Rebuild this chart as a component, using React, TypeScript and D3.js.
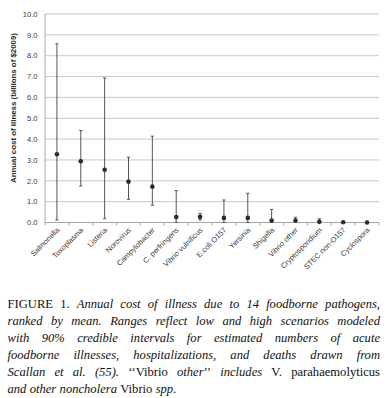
import * as d3 from 'd3';
import { useEffect, useRef } from 'react';

const width = 390;
const height = 398;
const marginTop = 14;
const marginLeft = 45;
const marginRight = 11;
const axisY = 222.5;

const pathogens = [
  'Salmonella',
  'Toxoplasma',
  'Listeria',
  'Norovirus',
  'Campylobacter',
  'C. perfringens',
  'Vibrio vulnificus',
  'E.coli O157',
  'Yersinia',
  'Shigella',
  'Vibrio other',
  'Cryptosporidium',
  'STEC non-O157',
  'Cyclospora',
];
const meanCost = [3.27, 2.94, 2.53, 1.96, 1.72, 0.26, 0.27, 0.22, 0.22, 0.09, 0.09, 0.03, 0.01, 0.0];
const lowCost = [0.12, 1.75, 0.18, 1.11, 0.83, 0.0, 0.12, 0.0, 0.0, 0.0, 0.02, 0.0, 0.0, 0.0];
const highCost = [8.57, 4.41, 6.93, 3.13, 4.14, 1.53, 0.44, 1.08, 1.4, 0.63, 0.25, 0.18, 0.03, 0.01];
const yTicks = [0, 1, 2, 3, 4, 5, 6, 7, 8, 9, 10];

// caption: each line is a list of words, each word a list of [text, italic] runs
type Run = [string, boolean];
const caption: Run[][][] = [
  [[['FIGURE', false]], [['1.', false]], ...'Annual cost of illness due to 14 foodborne pathogens,'.split(' ').map((w) => [[w, true] as Run])],
  'ranked by mean. Ranges reflect low and high scenarios modeled'.split(' ').map((w) => [[w, true] as Run]),
  'with 90% credible intervals for estimated numbers of acute'.split(' ').map((w) => [[w, true] as Run]),
  'foodborne illnesses, hospitalizations, and deaths drawn from'.split(' ').map((w) => [[w, true] as Run]),
  [
    [['Scallan', true]],
    [['et', true]],
    [['al.', true]],
    [['(55).', true]],
    [['\u2018\u2018Vibrio', false]],
    [['other', true], ['\u2019\u2019', false]],
    [['includes', true]],
    [['V.', false]],
    [['parahaemolyticus', false]],
  ],
  [[['and', true]], [['other', true]], [['noncholera', true]], [['Vibrio', false]], [['spp.', true]]],
];

export default function App() {
  const ref = useRef<HTMLDivElement>(null);

  useEffect(() => {
    if (!ref.current) return;
    document.body.style.margin = '0';

    const x = d3
      .scaleBand<string>()
      .domain(pathogens)
      .range([marginLeft, width - marginRight]);
    const y = d3.scaleLinear().domain([0, 10]).range([axisY, marginTop]);

    const svg = d3.create('svg').attr('width', width).attr('height', height);
    svg.append('rect').attr('width', width).attr('height', height).attr('fill', '#fff');

    const chartFont = "'Liberation Sans', Arial, sans-serif";

    // grid lines
    svg
      .append('g')
      .selectAll('line')
      .data(yTicks.slice(1))
      .join('line')
      .attr('x1', marginLeft)
      .attr('x2', width - marginRight)
      .attr('y1', (d) => y(d))
      .attr('y2', (d) => y(d))
      .attr('stroke', '#c8c8c8')
      .attr('stroke-width', 1);

    // y tick labels
    svg
      .append('g')
      .selectAll('text')
      .data(yTicks)
      .join('text')
      .attr('x', 37.5)
      .attr('y', (d) => y(d) + 2.7)
      .attr('text-anchor', 'end')
      .attr('font-family', chartFont)
      .attr('font-size', 7.6)
      .attr('fill', '#3a3a3a')
      .text((d) => d.toFixed(1));

    // y axis line
    svg
      .append('line')
      .attr('x1', marginLeft)
      .attr('x2', marginLeft)
      .attr('y1', y(10))
      .attr('y2', axisY)
      .attr('stroke', '#a6a6a6');

    // x axis line + ticks
    svg
      .append('line')
      .attr('x1', marginLeft)
      .attr('x2', width - marginRight)
      .attr('y1', axisY)
      .attr('y2', axisY)
      .attr('stroke', '#a6a6a6');
    svg
      .append('g')
      .selectAll('line')
      .data([...pathogens.map((p) => x(p)!), width - marginRight])
      .join('line')
      .attr('x1', (d) => d)
      .attr('x2', (d) => d)
      .attr('y1', axisY)
      .attr('y2', axisY + 3)
      .attr('stroke', '#a6a6a6');

    // y axis title
    svg
      .append('text')
      .attr('transform', `translate(16,108) rotate(-90)`)
      .attr('text-anchor', 'middle')
      .attr('font-family', chartFont)
      .attr('font-weight', 'bold')
      .attr('font-size', 7.8)
      .attr('textLength', 150)
      .attr('lengthAdjust', 'spacingAndGlyphs')
      .attr('fill', '#262626')
      .text('Annual cost of illness (billions of $2009)');

    // x labels rotated
    svg
      .append('g')
      .selectAll('text')
      .data(pathogens)
      .join('text')
      .attr('transform', (d) => `translate(${x(d)! + x.bandwidth() / 2 + 3},${axisY + 8}) rotate(-45)`)
      .attr('text-anchor', 'end')
      .attr('font-family', chartFont)
      .attr('font-size', 7.5)
      .attr('fill', '#3a3a3a')
      .text((d) => d);

    // error bars
    const cx = (i: number) => x(pathogens[i])! + x.bandwidth() / 2;
    const bars = svg.append('g').attr('stroke', '#555').attr('stroke-width', 1);
    pathogens.forEach((_, i) => {
      bars
        .append('line')
        .attr('x1', cx(i))
        .attr('x2', cx(i))
        .attr('y1', y(lowCost[i]))
        .attr('y2', y(highCost[i]));
      [lowCost[i], highCost[i]].forEach((v) => {
        bars
          .append('line')
          .attr('x1', cx(i) - 1.6)
          .attr('x2', cx(i) + 1.6)
          .attr('y1', y(v))
          .attr('y2', y(v));
      });
    });

    // mean markers
    svg
      .append('g')
      .selectAll('circle')
      .data(meanCost)
      .join('circle')
      .attr('cx', (_, i) => cx(i))
      .attr('cy', (d) => y(d))
      .attr('r', 2.3)
      .attr('fill', '#2b2b2b');

    // caption (justified)
    const capLeft = 7.5;
    const capRight = 380;
    const baseline0 = 307.7;
    const lineStep = 17;
    const capG = svg
      .append('g')
      .attr('font-family', "'Liberation Serif', 'Times New Roman', serif")
      .attr('font-size', 12.6)
      .attr('fill', '#111');

    ref.current.innerHTML = '';
    ref.current.appendChild(svg.node()!);

    caption.forEach((line, li) => {
      const by = baseline0 + li * lineStep;
      const nodes = line.map((word) => {
        const t = capG.append('text').attr('y', by);
        word.forEach(([s, it]) => {
          t.append('tspan')
            .attr('font-style', it ? 'italic' : 'normal')
            .text(s);
        });
        return t;
      });
      const widths = nodes.map((n) => (n.node() as SVGTextElement).getComputedTextLength());
      const total = d3.sum(widths);
      const last = li === caption.length - 1;
      const gap = last ? 3.3 : (capRight - capLeft - total) / (line.length - 1);
      let pos = capLeft;
      nodes.forEach((n, k) => {
        n.attr('x', pos);
        pos += widths[k] + gap;
      });
    });
  }, [ref]);

  return <div ref={ref} />;
}
